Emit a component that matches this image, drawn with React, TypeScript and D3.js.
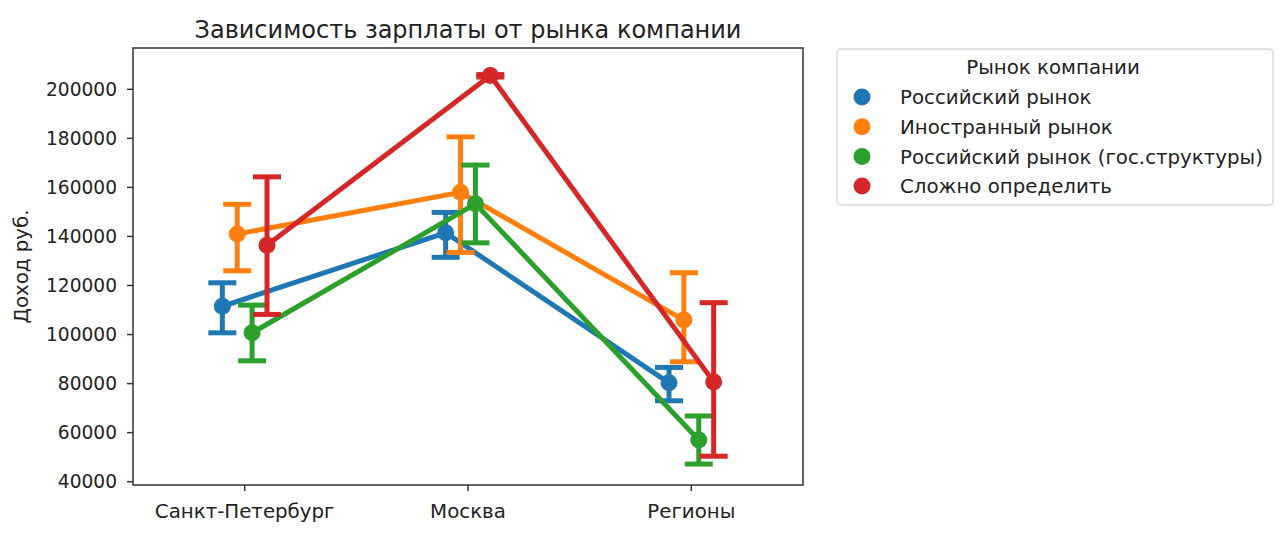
import React, { useRef, useEffect } from 'react'
import * as d3 from 'd3'

const cities = ['Санкт-Петербург', 'Москва', 'Регионы']
const markets = [
  'Российский рынок',
  'Иностранный рынок',
  'Российский рынок (гос.структуры)',
  'Сложно определить',
]
const colors = ['#1f77b4', '#ff7f0e', '#2ca02c', '#d62728']

// mean salary per market, in city order
const meanRu = [111500, 141500, 80300]
const meanForeign = [141000, 158000, 105900]
const meanGov = [100700, 153300, 57000]
const meanHard = [136400, 205600, 80700]

// confidence intervals [low, high]
const ciRu = [[100700, 121100], [131500, 149800], [73000, 86600]]
const ciForeign = [[126000, 153100], [133500, 180600], [88900, 125200]]
const ciGov = [[89300, 112000], [137400, 169100], [47200, 66800]]
const ciHard = [[108200, 164300], [205000, 206000], [50400, 113000]]

const yTicks = [40000, 60000, 80000, 100000, 120000, 140000, 160000, 180000, 200000]

const means = [meanRu, meanForeign, meanGov, meanHard]
const cis = [ciRu, ciForeign, ciGov, ciHard]

const App = () => {
  const svgRef = useRef<SVGSVGElement>(null)

  useEffect(() => {
    const svg = d3.select(svgRef.current)
    svg.selectAll('*').remove()

    const left = 133
    const right = 803
    const top = 48
    const bottom = 485
    const font = 'DejaVu Sans'
    const textSize = 19.8
    const numSize = 18.6

    const x = d3.scaleLinear().domain([-0.5, 2.5]).range([left, right])
    const y = d3.scaleLinear().domain([40000, 200000]).range([481.7, 89.3])

    const dodge = 0.2
    const offsets = markets.map((_, i) => -dodge / 2 + (dodge * i) / (markets.length - 1))
    const capHalf = 14

    // title
    svg
      .append('text')
      .attr('x', (left + right) / 2)
      .attr('y', 38)
      .attr('text-anchor', 'middle')
      .attr('font-family', font)
      .attr('font-size', 24)
      .attr('fill', '#222')
      .text('Зависимость зарплаты от рынка компании')

    // y ticks
    const yg = svg.append('g')
    yTicks.forEach((t) => {
      yg.append('line')
        .attr('x1', left - 6)
        .attr('x2', left)
        .attr('y1', y(t))
        .attr('y2', y(t))
        .attr('stroke', '#333')
        .attr('stroke-width', 1.5)
      yg.append('text')
        .attr('x', 117)
        .attr('y', y(t))
        .attr('dy', '0.36em')
        .attr('text-anchor', 'end')
        .attr('font-family', font)
        .attr('font-size', numSize)
        .attr('fill', '#222')
        .text(t)
    })

    // x ticks
    cities.forEach((c, i) => {
      svg.append('line')
        .attr('x1', x(i))
        .attr('x2', x(i))
        .attr('y1', bottom)
        .attr('y2', bottom + 6)
        .attr('stroke', '#333')
        .attr('stroke-width', 1.5)
      svg.append('text')
        .attr('x', x(i))
        .attr('y', 518)
        .attr('text-anchor', 'middle')
        .attr('font-family', font)
        .attr('font-size', textSize)
        .attr('fill', '#222')
        .text(c)
    })

    // y label
    svg
      .append('text')
      .attr('transform', `translate(28,${(top + bottom) / 2}) rotate(-90)`)
      .attr('text-anchor', 'middle')
      .attr('font-family', font)
      .attr('font-size', textSize)
      .attr('fill', '#222')
      .text('Доход руб.')

    const plot = svg.append('g')

    means.forEach((vals, s) => {
      const color = colors[s]
      const line = d3
        .line<number>()
        .x((_, i) => x(i + offsets[s]))
        .y((d) => y(d))
      plot.append('path')
        .attr('d', line(vals))
        .attr('fill', 'none')
        .attr('stroke', color)
        .attr('stroke-width', 5)

      cis[s].forEach(([lo, hi], i) => {
        const cx = x(i + offsets[s])
        const g = plot.append('g').attr('stroke', color).attr('stroke-width', 5)
        g.append('line').attr('x1', cx).attr('x2', cx).attr('y1', y(lo)).attr('y2', y(hi))
        g.append('line').attr('x1', cx - capHalf).attr('x2', cx + capHalf).attr('y1', y(lo)).attr('y2', y(lo))
        g.append('line').attr('x1', cx - capHalf).attr('x2', cx + capHalf).attr('y1', y(hi)).attr('y2', y(hi))
      })

      plot.selectAll(null)
        .data(vals)
        .enter()
        .append('circle')
        .attr('cx', (_, i) => x(i + offsets[s]))
        .attr('cy', (d) => y(d))
        .attr('r', 8.5)
        .attr('fill', color)
    })

    // frame
    svg
      .append('rect')
      .attr('x', left)
      .attr('y', top)
      .attr('width', right - left)
      .attr('height', bottom - top)
      .attr('fill', 'none')
      .attr('stroke', '#333')
      .attr('stroke-width', 1.5)

    // legend
    const lg = svg.append('g')
    lg.append('rect')
      .attr('x', 837)
      .attr('y', 49)
      .attr('width', 436)
      .attr('height', 156)
      .attr('rx', 4)
      .attr('fill', '#fff')
      .attr('stroke', '#d9d9d9')
      .attr('stroke-width', 1.5)
    lg.append('text')
      .attr('x', 1053)
      .attr('y', 67)
      .attr('dy', '0.36em')
      .attr('text-anchor', 'middle')
      .attr('font-family', font)
      .attr('font-size', textSize)
      .attr('fill', '#222')
      .text('Рынок компании')
    markets.forEach((m, i) => {
      const ly = 97 + i * 29.7
      lg.append('circle').attr('cx', 862).attr('cy', ly).attr('r', 8.5).attr('fill', colors[i])
      lg.append('text')
        .attr('x', 900)
        .attr('y', ly)
        .attr('dy', '0.36em')
        .attr('font-family', font)
        .attr('font-size', textSize)
        .attr('fill', '#222')
        .text(m)
    })
  }, [])

  return (
    <div style={{ position: 'absolute', left: 0, top: 0, width: 1282, height: 534, background: '#fff' }}>
      <svg ref={svgRef} width={1282} height={534} />
    </div>
  )
}

export default App
